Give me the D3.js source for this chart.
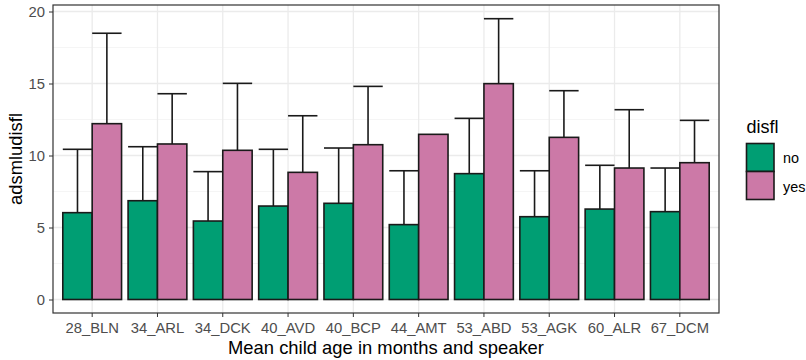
<!DOCTYPE html>
<html><head><meta charset="utf-8">
<script src="https://cdn.jsdelivr.net/npm/d3@7"></script>
<style>body{margin:0;background:#fff}svg{display:block}text{font-family:"Liberation Sans",Arial,sans-serif}</style>
</head><body><svg id="c" width="806" height="360"></svg>
<script>
const categories = ["28_BLN","34_ARL","34_DCK","40_AVD","40_BCP","44_AMT","53_ABD","53_AGK","60_ALR","67_DCM"];
const groups = ["no","yes"];
const meanNo  = [6.03,6.86,5.45,6.49,6.68,5.20,8.74,5.75,6.28,6.10];
const upperNo = [10.43,10.61,8.88,10.43,10.52,8.94,12.58,8.94,9.32,9.13];
const meanYes = [12.21,10.80,10.36,8.83,10.75,11.47,14.99,11.26,9.13,9.50];
const upperYes= [18.49,14.29,15.01,12.76,14.80,null,19.50,14.50,13.18,12.44];
const yTicks = [0,5,10,15,20];
const colors = {no:"#009E73", yes:"#CC79A7"};

const svg = d3.select("#c");
const L=53,R=719,T=5,B=313;
const x = d3.scaleBand().domain(categories).range([L,R]).paddingInner(0).paddingOuter(0.1);
const y = d3.scaleLinear().domain([0,20]).range([299.5,11.5]);
const inner = d3.scaleBand().domain(groups).range([0,x.bandwidth()*0.9]);
const off = x.bandwidth()*0.05;

const data = [];
categories.forEach((c,i)=>{
  data.push({cat:c,g:"no",m:meanNo[i],u:upperNo[i]});
  data.push({cat:c,g:"yes",m:meanYes[i],u:upperYes[i]});
});

// panel
svg.append("rect").attr("x",L).attr("y",T).attr("width",R-L).attr("height",B-T).attr("fill","#fff");
const minor=[2.5,7.5,12.5,17.5];
svg.append("g").selectAll("line").data(minor).join("line")
  .attr("x1",L).attr("x2",R).attr("y1",d=>y(d)).attr("y2",d=>y(d)).attr("stroke","#f2f2f2").attr("stroke-width",0.8);
svg.append("g").selectAll("line").data(yTicks).join("line")
  .attr("x1",L).attr("x2",R).attr("y1",d=>y(d)).attr("y2",d=>y(d)).attr("stroke","#ebebeb").attr("stroke-width",1.3);
svg.append("g").selectAll("line").data(categories).join("line")
  .attr("x1",d=>x(d)+x.bandwidth()/2).attr("x2",d=>x(d)+x.bandwidth()/2).attr("y1",T).attr("y2",B).attr("stroke","#ebebeb").attr("stroke-width",1.3);

const bx = d=>x(d.cat)+off+inner(d.g);
// error bars
const eb = svg.append("g").attr("stroke","#1a1a1a").attr("stroke-width",1.6);
data.filter(d=>d.u!=null).forEach(d=>{
  const x0=bx(d), w=inner.bandwidth(), cx=x0+w/2;
  eb.append("line").attr("x1",cx).attr("x2",cx).attr("y1",y(d.m)).attr("y2",y(d.u));
  eb.append("line").attr("x1",x0).attr("x2",x0+w).attr("y1",y(d.u)).attr("y2",y(d.u));
});
// bars
svg.append("g").selectAll("rect").data(data).join("rect")
  .attr("x",bx).attr("width",inner.bandwidth())
  .attr("y",d=>y(d.m)).attr("height",d=>y(0)-y(d.m))
  .attr("fill",d=>colors[d.g]).attr("stroke","#1a1a1a").attr("stroke-width",1.6);

// border
svg.append("rect").attr("x",L).attr("y",T).attr("width",R-L).attr("height",B-T).attr("fill","none").attr("stroke","#333").attr("stroke-width",1.2);

// axes
const ya = svg.append("g").attr("transform",`translate(${L},0)`).call(d3.axisLeft(y).tickValues(yTicks).tickSize(4).tickPadding(4));
ya.select(".domain").remove();
ya.selectAll("line").attr("stroke","#333");
ya.selectAll("text").attr("fill","#4d4d4d").style("font-size","14.8px");
const xa = svg.append("g").attr("transform",`translate(0,${B})`).call(d3.axisBottom(x).tickSize(4).tickPadding(4));
xa.select(".domain").remove();
xa.selectAll("line").attr("stroke","#333");
xa.selectAll("text").attr("fill","#4d4d4d").style("font-size","14.8px").attr("dy",null).attr("y",19.7);

svg.append("text").attr("x",(L+R)/2).attr("y",353.5).attr("text-anchor","middle").style("font-size","18.4px").attr("fill","#000").text("Mean child age in months and speaker");
svg.append("text").attr("transform",`translate(22,${(T+B)/2}) rotate(-90)`).attr("text-anchor","middle").style("font-size","18.4px").attr("fill","#000").text("adsmludisfl");

// legend
svg.append("text").attr("x",746.5).attr("y",133.3).style("font-size","18px").text("disfl");
groups.forEach((g,i)=>{
  svg.append("rect").attr("x",746.5).attr("y",143.5+i*28).attr("width",27.5).attr("height",28).attr("fill",colors[g]).attr("stroke","#1a1a1a").attr("stroke-width",1.6);
  svg.append("text").attr("x",783).attr("y",162.8+i*29).style("font-size","14.4px").text(g);
});
</script></body></html>
